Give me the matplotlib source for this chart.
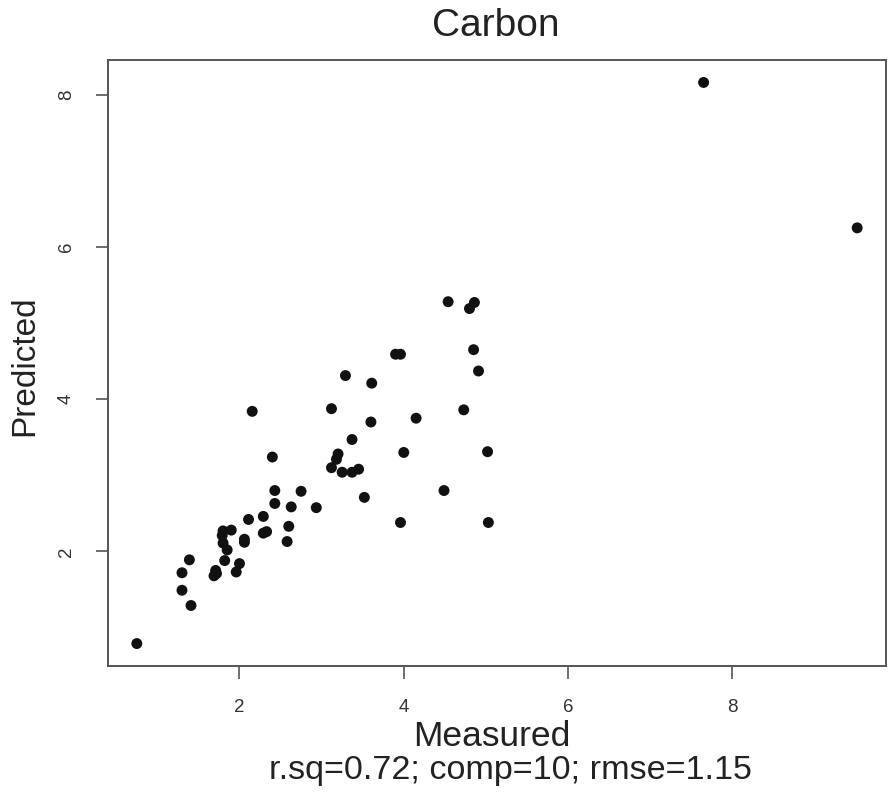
import matplotlib
matplotlib.use("Agg")
import matplotlib.pyplot as plt

plt.rcParams['font.family'] = ['Liberation Sans', 'DejaVu Sans']

# measured vs predicted carbon
measured = [0.75, 1.41, 1.30, 1.30, 1.39, 1.69, 1.72, 1.71, 1.96, 2.00,
            1.82, 1.85, 1.80, 1.79, 1.80, 1.90, 2.06, 2.06, 2.11, 2.29,
            2.29, 2.33, 2.58, 2.60, 2.43, 2.43, 2.63, 2.75, 2.935, 2.40,
            2.155, 3.12, 3.12, 3.18, 3.20, 3.25, 3.37, 3.45, 3.37, 3.52,
            3.60, 3.29, 3.61, 3.90, 3.96, 4.00, 3.96, 4.15, 4.49, 4.54,
            4.80, 4.86, 4.85, 4.91, 4.73, 5.02, 5.03, 7.65, 9.52]
predicted = [0.79, 1.29, 1.49, 1.72, 1.89, 1.68, 1.71, 1.75, 1.73, 1.84,
             1.88, 2.02, 2.11, 2.21, 2.27, 2.28, 2.12, 2.16, 2.42, 2.46,
             2.24, 2.26, 2.13, 2.33, 2.63, 2.80, 2.585, 2.79, 2.575, 3.24,
             3.84, 3.875, 3.10, 3.21, 3.28, 3.04, 3.04, 3.08, 3.47, 2.71,
             3.70, 4.31, 4.21, 4.59, 4.59, 3.30, 2.38, 3.75, 2.80, 5.28,
             5.19, 5.27, 4.65, 4.37, 3.86, 3.31, 2.38, 8.16, 6.25]

title = "Carbon"
stats = "r.sq=0.72; comp=10; rmse=1.15"

W, H = 889, 798
fig = plt.figure(figsize=(W / 100, H / 100), dpi=100)
ax = fig.add_axes([108 / W, 1 - 666 / H, (886 - 108) / W, (666 - 60) / H])

ax.scatter(measured, predicted, s=62, c='#111111', edgecolors='none')

# R style 4% padding around the data range
def pad(v):
    lo, hi = min(v), max(v)
    d = (hi - lo) * 0.04
    return lo - d, hi + d

ax.set_xlim(pad(measured))
ax.set_ylim(pad(predicted))
ax.set_xticks([2, 4, 6, 8])
ax.set_yticks([2, 4, 6, 8])

for s in ax.spines.values():
    s.set_color('#555555')
    s.set_linewidth(1.4)

ax.tick_params(direction='out', length=9, width=1.2, color='#555555',
               labelsize=13.5, labelcolor='#333333', pad=15)
for lab in ax.get_yticklabels():
    lab.set_rotation(90)
    lab.set_va('center')

fig.text(496 / W, 1 - 26 / H, title, ha='center', va='center',
         fontsize=28, color='#222222')
fig.text(492 / W, 1 - 737 / H, "Measured", ha='center', va='center',
         fontsize=25.5, color='#222222')
fig.text(510 / W, 1 - 770 / H, stats, ha='center', va='center',
         fontsize=24.6, color='#222222')
fig.text(25 / W, 1 - 366 / H, "Predicted", ha='center', va='center',
         rotation=90, fontsize=24, color='#222222')

fig.savefig("out.png", dpi=100)
